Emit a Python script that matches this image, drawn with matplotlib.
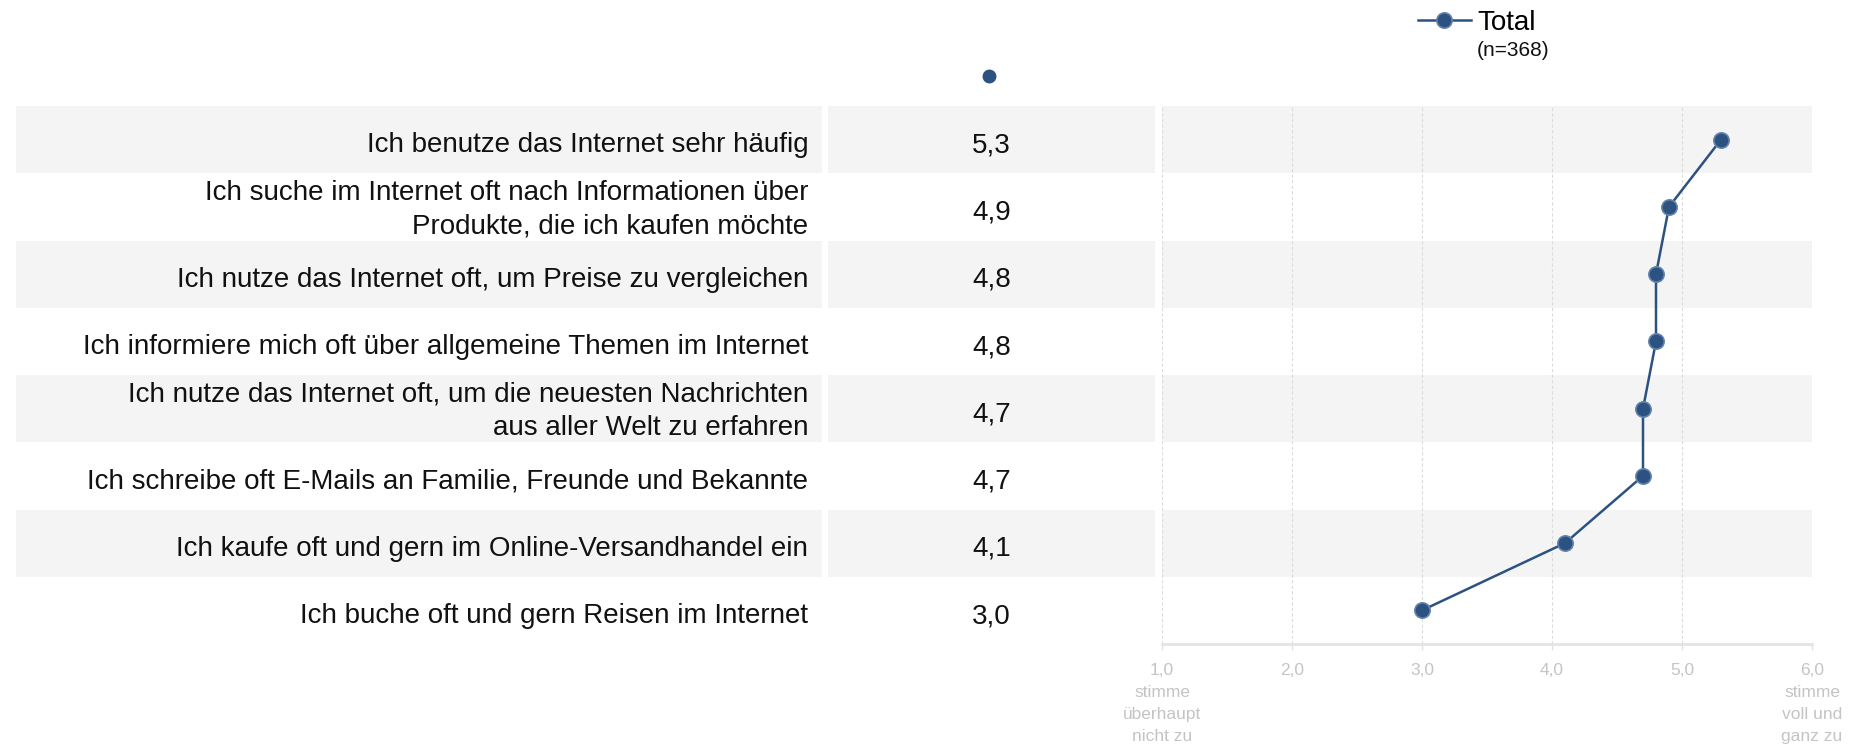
# -*- coding: utf-8 -*-
"""
Internetnutzung: Mittelwerte der Zustimmung (Skala 1-6) als Profil-Linie
"""
import numpy as np
from matplotlib import pyplot as plt
from matplotlib.lines import Line2D

statements = [
    "Ich benutze das Internet sehr häufig",
    "Ich suche im Internet oft nach Informationen über\nProdukte, die ich kaufen möchte",
    "Ich nutze das Internet oft, um Preise zu vergleichen",
    "Ich informiere mich oft über allgemeine Themen im Internet",
    "Ich nutze das Internet oft, um die neuesten Nachrichten\naus aller Welt zu erfahren",
    "Ich schreibe oft E-Mails an Familie, Freunde und Bekannte",
    "Ich kaufe oft und gern im Online-Versandhandel ein",
    "Ich buche oft und gern Reisen im Internet",
]
means_total = [5.3, 4.9, 4.8, 4.8, 4.7, 4.7, 4.1, 3.0]
scale_ticks = [1, 2, 3, 4, 5, 6]
scale_labels = ["1,0\nstimme\nüberhaupt\nnicht zu", "2,0", "3,0", "4,0", "5,0",
                "6,0\nstimme\nvoll und\nganz zu"]
series_name = "Total"
sample_note = "(n=368)"

BLUE = "#2c5282"
BAND = "#f4f4f4"
GRID = "#dcdcdc"
TICK_GREY = "#c4c4c4"

W, H = 1861, 746
plt.rcParams["font.family"] = ["Liberation Sans", "DejaVu Sans"]


def px_axes(fig, x0, x1, y0, y1):
    """axes from pixel box (top-left origin)"""
    return fig.add_axes([x0 / W, 1 - y1 / H, (x1 - x0) / W, (y1 - y0) / H])


fig = plt.figure(figsize=(W / 100, H / 100), dpi=100)
n = len(statements)
rows = np.arange(n)

top, bottom = 106, 644
ax_lab = px_axes(fig, 16, 822, top, bottom)
ax_val = px_axes(fig, 828, 1155, top, bottom)
ax = px_axes(fig, 1162, 1812, top, bottom)

for a in (ax_lab, ax_val, ax):
    a.set_ylim(n - 0.5, -0.5)
    for r in rows[::2]:
        a.axhspan(r - 0.5, r + 0.5, color=BAND, lw=0, zorder=0)
    for s in a.spines.values():
        s.set_visible(False)
    a.set_yticks([])

ax_lab.set_xlim(0, 1)
ax_lab.set_xticks([])
ax_val.set_xlim(0, 1)
ax_val.set_xticks([])

for r, label, v in zip(rows, statements, means_total):
    # nudge text down a little so the glyphs sit optically centred in the row
    dy = 0.04 if "\n" in label else 0.085
    ax_lab.text(0.983, r + dy, label, ha="right", va="center", fontsize=20,
                color="#111111", linespacing=1.35)
    ax_val.text(0.5, r + 0.085, f"{v:.1f}".replace(".", ","), ha="center",
                va="center", fontsize=20, color="#111111")

# column header marker above the values
ax_val.plot([0.492], [1 + 30 / (bottom - top)], "o", color=BLUE, ms=9,
            transform=ax_val.transAxes, clip_on=False)

# profile line
ax.set_xlim(1, 6)
ax.set_xticks(scale_ticks)
ax.set_xticklabels(scale_labels, fontsize=12.5, color=TICK_GREY, linespacing=1.6)
ax.tick_params(axis="x", length=4, width=1, color="#e2e2e2", pad=9.5)
ax.grid(axis="x", color=GRID, linestyle=(0, (3, 2)), linewidth=0.8, zorder=1)
ax.spines["bottom"].set_visible(True)
ax.spines["bottom"].set_color("#e4e4e4")
ax.spines["bottom"].set_linewidth(2)
ax.plot(means_total, rows, color=BLUE, lw=1.8, marker="o", ms=11,
        mfc=BLUE, mec="#6383ad", mew=1.2, zorder=3, clip_on=False)

handle = Line2D([], [], color=BLUE, lw=1.8, marker="o", ms=11,
                mfc=BLUE, mec="#6383ad", mew=1.2)
fig.legend([handle], [series_name], loc="upper left",
           bbox_to_anchor=(1418 / W, 1 - 10 / H), frameon=False, fontsize=20,
           handlelength=1.9, handletextpad=0.25, borderpad=0, borderaxespad=0)
fig.text(1477 / W, 1 - 51 / H, sample_note, fontsize=15, va="center", ha="left",
         color="#111111")

plt.savefig("out.png", dpi=100)
